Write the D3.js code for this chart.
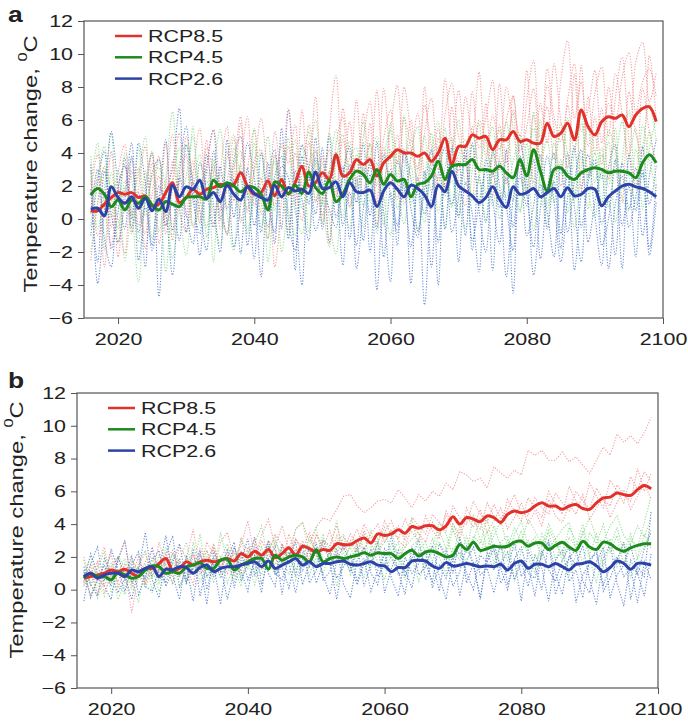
<!DOCTYPE html>
<html>
<head>
<meta charset="utf-8">
<script src="https://cdn.jsdelivr.net/npm/d3@7"></script>
<style>
  body { margin: 0; background: #fff; }
  svg { display: block; }
  text { font-family: "Liberation Sans", Arial, sans-serif; fill: #222; }
</style>
</head>
<body>
<div id="chart"></div>
<script>
// years 2016..2099, one value per year
const years = d3.range(2016, 2100);
const xTicks = [2020, 2040, 2060, 2080, 2100];
const yTicks = [-6, -4, -2, 0, 2, 4, 6, 8, 10, 12];
const scenarios = ["RCP8.5", "RCP4.5", "RCP2.6"];

// ---- panel a: ensemble means (thick lines)
const a85Mean = [0.5,0.5,0.9,1.3,1.6,1.5,1.6,1.3,1.4,0.8,
  0.9,1.6,2.2,1.0,1.3,1.8,1.5,1.8,1.9,2.1,
  2.0,2.1,2.8,2.0,1.5,1.6,2.3,1.4,2.4,1.5,
  2.2,3.2,2.0,2.2,2.8,2.4,3.9,2.6,2.8,3.6,
  3.3,3.6,2.6,3.4,3.8,4.2,4.0,4.0,3.8,4.0,
  3.5,4.0,4.9,3.3,4.4,4.4,5.1,4.9,5.0,4.2,
  4.8,4.8,5.3,4.7,4.8,4.6,4.6,5.8,5.0,5.2,
  5.8,4.8,6.6,5.6,5.1,5.9,6.2,6.1,6.3,5.6,
  6.3,6.7,6.8,5.9];
const a45Mean = [1.45,1.85,1.5,0.75,1.15,0.55,1.15,0.95,1.35,0.85,
  0.55,1.05,0.9,0.75,1.3,1.35,1.35,1.2,2.35,1.95,
  2.2,2.0,1.65,1.95,1.9,1.5,0.55,2.25,2.0,1.55,
  2.05,1.55,2.85,1.9,1.55,2.35,1.05,1.5,2.4,2.9,
  2.7,2.2,3.0,2.1,2.7,2.3,2.4,1.35,2.1,2.2,
  2.6,3.5,2.4,3.2,3.3,3.3,3.6,3.0,3.0,2.9,
  3.2,2.8,2.5,3.6,2.6,4.2,2.9,1.7,3.0,3.1,
  2.6,2.4,2.8,3.0,3.1,3.0,2.8,2.9,2.9,2.8,
  2.5,3.4,3.9,3.4];
const a26Mean = [0.6,0.65,0.2,1.95,1.3,0.95,1.35,0.65,1.25,0.5,
  1.2,0.45,2.05,1.35,1.95,1.8,2.35,1.25,1.6,1.05,
  2.05,1.5,1.15,1.95,1.55,1.3,1.15,2.05,1.35,1.9,
  1.7,1.8,1.55,2.85,1.85,1.9,2.25,1.35,2.2,1.65,
  1.6,1.75,0.75,1.7,2.2,1.8,1.35,2.05,1.85,1.45,
  0.75,2.05,1.65,2.9,2.0,1.7,1.4,1.0,1.3,1.95,
  1.2,0.7,1.95,1.5,1.6,1.85,1.35,1.6,1.85,1.35,
  1.9,1.4,1.5,1.85,1.8,0.8,1.35,1.7,2.0,2.1,
  1.95,1.85,1.65,1.35];

// ---- panel a: individual model runs (dotted lines)
const a85Runs = [
  [-2.5,1.0,3.2,-0.5,2.8,4.5,0.2,3.1,-1.8,1.5,
   3.8,-0.9,2.4,5.2,0.1,3.5,1.2,4.8,-0.3,2.9,
   5.6,1.1,3.4,6.2,0.8,2.5,-1.2,3.9,1.6,4.4,
   0.9,6.6,2.3,4.1,0.2,5.3,8.7,2.6,5.9,1.8,
   6.4,3.1,7.8,2.2,5.5,8.1,3.4,6.0,1.7,5.2,
   7.3,3.0,8.5,4.6,2.9,7.4,5.1,8.9,3.8,6.3,
   4.2,8.0,5.5,2.7,7.2,9.6,4.9,6.8,3.6,8.4,
   10.8,6.1,8.3,4.4,7.6,9.2,5.0,8.8,6.4,3.9,
   9.5,10.7,7.1,8.9],
  [2.9,-1.0,0.4,4.1,-2.3,1.8,3.6,-0.4,2.2,4.0,
   -1.5,1.9,5.1,0.6,-0.8,2.7,5.5,1.4,3.3,-0.6,
   2.1,4.9,-0.2,3.0,5.4,0.3,2.6,-2.9,1.2,6.7,
   2.4,-0.1,4.7,1.0,3.8,-1.5,4.5,6.2,0.7,3.6,
   1.5,5.8,-0.4,4.3,2.0,5.1,0.9,3.7,6.4,2.5,
   0.6,4.9,1.8,6.8,2.3,0.8,5.6,2.9,7.0,1.4,
   5.7,2.1,7.5,3.6,1.5,6.3,2.8,8.1,5.4,2.0,
   6.9,4.1,9.3,2.6,6.2,3.3,8.0,4.5,1.0,7.7,
   5.2,3.8,9.9,6.0],
  [0.3,2.5,-2.9,1.1,0.0,-2.1,2.9,0.8,-0.9,3.4,
   1.0,4.6,-1.3,2.2,3.9,-0.5,0.9,3.2,5.4,1.7,
   -1.0,2.8,6.2,1.5,3.6,4.2,0.7,5.3,2.1,-0.7,
   4.0,1.9,5.7,3.2,-0.2,2.9,1.4,4.8,3.0,7.2,
   2.8,4.5,1.0,7.9,3.6,1.2,6.1,4.3,2.4,8.0,
   3.2,5.5,2.0,4.1,7.8,3.5,1.3,6.0,4.7,2.6,
   8.2,3.4,6.6,5.0,9.0,2.2,7.0,4.6,9.4,5.9,
   3.1,8.8,1.8,7.4,4.0,6.7,2.4,7.3,9.8,4.8,
   2.0,7.9,5.3,3.4],
  [1.6,3.9,0.9,-1.6,2.0,3.3,-0.8,1.9,4.4,0.6,
   2.6,-0.4,3.5,1.2,5.0,2.4,-0.2,4.3,2.8,0.5,
   4.1,2.2,5.8,0.4,3.1,6.1,2.7,0.8,4.6,3.4,
   5.7,1.6,3.0,7.4,2.5,4.2,1.1,6.7,4.0,2.9,
   5.0,7.1,2.0,4.9,6.6,3.3,8.0,5.2,3.0,6.9,
   4.4,2.1,6.3,8.2,5.0,3.7,7.7,4.3,6.1,8.4,
   3.0,6.0,7.4,4.1,5.6,7.9,3.5,9.1,6.2,4.7,
   7.2,9.4,5.3,6.6,9.0,4.6,7.0,5.9,8.6,10.1,
   6.5,8.3,9.1,7.4]
];
const a45Runs = [
  [3.8,-0.6,1.9,5.2,-1.5,2.3,0.4,-3.8,1.6,4.1,
   -0.8,2.5,6.5,0.9,-2.2,1.7,3.9,-1.1,2.8,5.4,
   0.3,-1.9,3.3,1.2,4.6,-0.5,2.0,3.5,-2.0,1.4,
   4.8,0.6,2.9,6.0,1.3,-1.7,3.6,5.1,0.8,2.2,
   5.9,1.0,3.4,-0.4,4.2,2.6,6.3,0.9,3.1,5.0,
   1.6,4.4,-0.6,3.7,6.0,2.1,4.5,0.7,3.3,5.6,
   1.2,4.0,6.4,0.5,3.2,5.5,2.0,-0.3,4.6,2.7,
   6.1,1.5,3.8,0.6,5.2,2.4,4.7,-0.2,3.5,6.6,
   1.9,4.3,7.0,4.8],
  [-0.4,2.6,4.4,0.1,3.0,-2.5,0.8,2.7,5.0,-1.2,
   1.4,-3.2,2.0,4.3,1.1,5.6,-0.3,2.3,0.4,-1.6,
   3.7,5.1,0.2,-0.6,2.9,4.0,-2.6,1.8,4.4,0.5,
   -1.0,2.7,5.3,1.1,3.4,0.0,-2.1,2.6,4.7,1.9,
   -0.5,3.8,5.0,1.4,-1.0,4.1,1.6,3.2,-0.8,2.4,
   5.2,0.4,3.1,4.9,1.2,-0.6,3.0,5.8,1.5,4.0,
   0.0,2.6,1.1,5.1,3.8,-0.7,2.9,4.8,1.0,3.6,
   0.4,4.1,5.8,1.7,0.1,3.9,2.0,5.5,1.3,0.5,
   4.2,2.5,5.3,2.2],
  [2.1,4.6,-1.9,2.8,0.7,1.9,-0.9,4.3,0.2,2.5,
   3.1,0.1,-1.0,3.4,4.5,-0.4,1.8,3.0,-2.6,2.7,
   1.6,3.2,4.1,-0.9,1.3,2.2,5.0,0.5,2.6,-1.1,
   2.2,4.4,-0.8,3.5,0.9,5.2,2.3,0.1,3.7,4.3,
   0.8,2.1,-0.9,3.6,5.4,0.6,2.9,4.8,1.5,-0.2,
   3.4,2.4,5.5,0.7,3.9,4.8,1.1,2.5,5.1,0.8,
   3.7,5.9,2.3,0.4,4.6,1.9,6.0,0.9,3.0,5.2,
   2.8,-0.6,3.1,5.6,2.2,4.3,0.7,3.3,5.9,2.6,
   0.9,5.7,3.6,1.6],
  [-2.0,0.9,3.1,1.7,-0.6,4.0,2.4,-1.4,2.9,0.6,
   3.6,1.8,-2.4,0.9,2.6,5.0,1.3,-0.5,3.6,0.2,
   -0.8,4.3,2.5,0.6,5.5,1.0,-1.2,3.8,2.3,4.9,
   0.4,-0.9,3.1,4.2,-0.3,2.8,5.4,1.6,-0.6,3.9,
   2.9,4.6,0.3,1.8,5.8,2.2,-0.3,3.9,5.6,1.2,
   4.0,5.9,1.4,2.3,0.2,4.4,5.1,2.6,-0.1,3.8,
   5.4,1.3,3.5,4.9,1.7,6.5,3.1,0.7,2.4,5.8,
   3.9,1.1,6.7,2.5,4.0,0.9,5.4,4.1,1.8,3.6,
   5.5,0.6,4.2,6.2]
];
const a26Runs = [
  [3.3,-3.9,0.6,5.3,2.0,-0.6,3.8,-2.5,1.2,4.0,
   -4.7,1.5,3.1,6.7,-0.8,2.2,0.5,-1.9,4.1,1.0,
   -0.9,3.6,5.0,-1.6,1.7,-3.5,2.4,4.2,-0.6,6.6,
   1.3,-4.0,2.6,0.3,4.3,-1.4,2.0,-2.8,3.3,1.0,
   4.6,-2.0,2.8,0.4,-3.8,3.5,1.9,-1.7,2.5,-5.2,
   1.4,3.9,-0.6,4.4,-2.6,2.2,0.3,-3.2,3.7,1.1,
   -1.5,4.2,-4.5,2.6,0.8,3.6,-2.4,1.7,4.0,-0.9,
   2.9,-3.1,1.6,3.9,0.2,-2.8,3.1,4.5,-0.4,2.0,
   -2.3,4.4,0.9,3.2],
  [-1.0,2.2,4.1,-1.8,0.4,3.7,-0.5,1.6,-2.9,2.8,
   3.6,-0.4,1.0,-1.3,4.5,2.0,-2.2,3.0,5.4,-0.1,
   2.3,-1.7,0.9,4.6,2.5,-0.8,3.4,-1.5,5.5,0.0,
   -1.9,3.8,0.9,4.9,-0.6,2.8,4.0,-0.4,1.6,-1.6,
   3.1,0.2,4.7,-2.3,1.6,-0.4,4.2,0.6,-1.1,2.9,
   -2.9,2.7,4.3,-0.8,1.3,3.8,-1.9,2.6,-0.2,4.1,
   2.0,-3.5,1.2,3.3,-1.0,0.8,3.9,-0.6,2.3,-1.8,
   4.0,0.7,-2.6,2.5,3.6,-0.3,1.1,-2.2,3.4,0.6,
   3.1,-1.0,2.6,4.8],
  [1.8,-2.6,2.9,0.3,-1.4,1.2,4.6,-0.8,0.7,-1.9,
   1.1,4.8,-0.7,2.5,0.4,-1.5,3.4,1.7,-0.5,3.2,
   0.6,2.4,-2.1,3.1,-0.4,1.9,-0.5,2.6,3.8,-1.2,
   2.9,1.2,-1.3,3.7,2.2,0.6,-0.5,3.2,-1.2,2.5,
   -1.3,2.7,-0.6,3.9,1.4,-0.8,2.4,-3.9,1.9,0.3,
   3.1,-1.4,2.0,0.9,3.5,-1.0,4.6,0.5,-2.0,2.8,
   0.7,2.5,-0.5,3.8,1.5,-1.7,2.1,0.4,-2.3,3.3,
   -0.8,2.3,4.2,-1.4,1.0,2.8,-3.0,0.9,2.6,-0.5,
   1.4,3.0,-1.8,2.1],
  [0.4,3.0,-1.2,-2.9,1.9,3.2,0.0,4.6,2.2,-1.6,
   2.0,0.4,-3.4,2.7,5.6,1.2,-0.9,3.9,0.9,-2.0,
   4.8,0.1,2.9,1.5,-2.4,4.0,1.0,-0.8,3.2,2.5,
   -3.1,4.5,3.0,-0.7,1.2,5.0,0.1,2.6,4.4,-3.0,
   0.6,3.4,-4.3,1.5,3.0,-1.6,4.1,2.4,-0.7,1.8,
   4.2,-4.0,2.4,3.5,0.1,4.3,-1.3,0.9,3.0,-3.1,
   3.5,0.8,-1.9,4.6,2.3,-3.4,0.6,3.8,1.1,-2.6,
   1.3,4.4,-0.5,2.2,3.4,-1.6,0.0,3.6,-3.0,3.9,
   0.5,2.8,-2.2,1.0]
];

// ---- panel b: ensemble means (thick lines)
const b85Mean = [0.7,0.8,0.9,1.0,1.2,1.1,1.25,1.0,0.8,1.3,
  1.3,1.6,1.9,1.2,1.3,1.7,1.5,1.7,1.8,1.7,
  1.8,1.9,1.75,2.2,2.0,2.35,2.1,2.45,1.95,2.2,
  2.55,2.1,2.65,2.5,2.3,2.45,2.4,2.8,2.75,2.75,
  3.0,3.15,2.85,3.4,3.3,3.4,3.65,3.45,3.85,3.75,
  3.9,3.9,3.65,3.9,4.45,4.0,4.4,4.3,4.15,4.5,
  4.4,4.1,4.6,4.8,4.7,4.8,5.1,5.3,5.1,5.1,
  4.9,5.1,5.2,4.95,4.9,5.3,5.6,5.65,5.9,5.8,
  5.75,6.1,6.35,6.15];
const b45Mean = [0.7,1.0,0.8,0.8,0.6,1.05,0.9,0.7,0.8,1.2,
  1.45,1.4,1.0,1.1,1.0,1.4,1.5,1.65,1.3,1.3,
  1.8,1.85,1.2,1.5,1.7,1.9,1.9,1.25,2.1,1.8,
  2.0,2.1,2.0,1.7,2.45,1.7,1.9,2.0,1.9,2.0,
  2.1,2.25,2.1,2.25,2.2,2.2,1.9,2.2,2.4,2.05,
  2.3,2.35,2.2,2.0,2.1,2.75,2.45,2.9,2.4,2.5,
  2.65,2.6,2.65,2.9,2.95,2.65,2.85,2.85,2.45,2.7,
  2.9,2.6,2.4,2.95,2.6,2.45,2.9,2.8,2.5,2.35,
  2.55,2.7,2.8,2.8];
const b26Mean = [0.8,1.0,0.7,0.9,1.0,1.0,0.8,1.2,1.1,1.3,
  1.4,0.8,1.25,1.2,1.4,1.35,1.0,1.35,1.5,1.1,
  1.3,1.4,1.4,1.5,1.6,1.7,1.4,1.75,1.3,1.5,
  1.7,1.9,1.5,1.7,1.4,1.6,1.6,1.7,1.75,1.55,
  1.5,1.6,1.7,1.5,1.45,1.1,1.35,1.35,1.75,1.8,
  1.75,1.45,1.3,1.65,1.45,1.5,1.6,1.5,1.4,1.45,
  1.4,1.55,1.2,1.6,1.75,1.3,1.55,1.55,1.4,1.6,
  1.4,1.2,1.55,1.6,1.7,1.45,1.1,1.35,1.75,1.6,
  1.25,1.6,1.6,1.5];

// ---- panel b: individual model runs (dotted lines)
const b85Runs = [
  [2.0,0.3,1.5,2.6,0.5,1.8,3.0,0.2,1.4,2.3,
   0.8,2.9,1.5,0.4,2.7,1.9,3.7,1.2,2.4,1.0,
   2.9,3.5,1.8,2.7,4.2,2.0,3.3,4.3,2.6,3.9,
   2.4,3.7,4.1,2.9,3.8,4.4,4.2,4.9,5.7,5.8,
   5.1,4.7,5.0,5.4,5.5,5.3,6.1,5.6,5.0,5.8,
   5.4,6.0,5.7,6.5,6.1,7.2,7.0,6.6,6.8,6.2,
   7.5,7.1,6.8,7.3,7.0,8.5,8.2,8.5,7.9,7.9,
   8.4,7.8,8.1,7.6,7.1,7.9,8.7,8.2,9.5,9.0,
   9.4,8.9,9.6,10.5],
  [0.4,1.6,-0.3,1.1,2.2,0.1,1.2,-1.4,0.9,1.7,
   2.4,0.6,1.0,2.2,0.9,1.4,0.3,2.5,1.6,2.8,
   1.3,2.0,0.9,3.2,1.5,2.6,1.2,3.0,2.4,1.6,
   3.4,2.2,3.0,1.7,3.3,2.6,3.6,2.1,3.2,2.8,
   3.7,2.4,3.4,4.0,2.9,3.6,3.1,4.3,3.5,3.0,
   4.5,3.6,3.1,4.8,4.0,3.4,5.0,4.2,3.7,5.3,
   4.5,3.9,5.5,4.8,4.2,5.6,5.0,4.4,6.0,5.2,
   4.6,6.3,5.4,4.9,6.5,5.7,5.0,6.7,6.0,5.3,
   6.9,6.1,7.2,6.6],
  [1.1,-0.4,0.7,0.2,1.4,2.0,0.5,1.9,1.0,0.3,
   1.6,1.1,2.3,1.0,1.7,0.6,2.0,1.3,2.9,2.1,
   1.7,1.0,2.5,1.9,2.2,3.1,1.8,2.4,3.4,2.7,
   1.9,3.1,2.5,3.5,2.2,3.0,2.7,3.9,2.5,3.4,
   2.7,4.0,3.2,2.8,4.2,3.3,3.9,3.0,4.4,3.9,
   3.4,4.6,4.1,3.6,5.1,4.4,4.0,5.4,4.6,4.1,
   5.2,4.3,4.9,5.8,4.7,4.5,5.6,5.0,4.6,5.9,
   5.3,4.8,6.0,5.4,4.9,6.2,5.5,5.1,6.4,5.8,
   5.4,7.4,6.0,7.1],
  [0.2,1.0,1.7,-0.2,0.9,0.5,1.6,0.8,2.0,0.4,
   1.5,0.9,1.8,2.4,0.8,1.3,2.2,0.9,1.6,2.6,
   1.2,2.3,1.6,1.0,2.6,1.8,3.0,2.2,1.5,2.8,
   2.0,3.1,2.3,1.9,3.4,2.6,1.9,3.3,2.4,3.0,
   2.3,3.6,2.8,2.1,3.5,4.2,3.0,2.6,3.9,3.4,
   2.9,4.1,3.3,4.6,3.6,3.1,4.5,3.8,4.9,3.5,
   4.2,5.0,3.7,4.4,5.3,4.0,4.8,3.9,5.5,4.5,
   4.1,5.2,4.6,5.8,4.3,5.0,5.6,4.4,5.3,6.1,
   4.9,5.7,6.5,5.5]
];
const b45Runs = [
  [1.8,0.2,1.3,2.3,-0.2,1.0,1.9,0.6,-0.8,1.5,
   0.7,2.1,1.4,0.3,1.8,2.9,0.9,1.6,2.4,1.1,
   3.5,1.6,0.5,2.2,1.3,2.8,3.9,1.7,0.9,2.6,
   1.9,3.7,4.1,2.2,1.5,3.1,2.5,4.2,1.6,2.8,
   2.1,3.5,1.2,2.9,3.8,2.0,1.3,3.3,4.3,2.4,
   2.9,1.7,3.6,2.5,4.0,3.1,2.2,4.6,3.0,2.5,
   3.9,2.6,1.8,3.4,4.2,2.7,3.2,1.9,3.7,2.9,
   2.1,3.8,3.0,1.6,3.5,2.8,4.0,2.3,3.3,1.5,
   3.1,2.6,4.1,5.7],
  [0.3,1.2,-0.5,0.8,1.6,0.4,-0.3,1.4,0.9,0.1,
   1.3,-0.1,0.8,1.9,0.2,1.0,1.7,0.5,1.2,2.7,
   0.9,1.4,2.3,0.7,1.8,0.3,2.0,2.9,1.1,1.7,
   2.7,0.6,1.9,3.2,2.1,1.0,2.4,0.2,1.9,2.6,
   1.5,0.8,2.6,1.7,0.6,2.3,2.9,1.2,2.0,0.5,
   1.9,3.1,2.0,1.0,2.5,1.8,3.3,1.4,2.2,3.6,
   1.6,2.9,3.3,0.5,2.4,3.0,1.4,2.6,3.5,1.8,
   3.0,0.9,2.2,3.6,1.9,0.4,2.5,3.1,1.4,2.9,
   0.7,2.0,3.4,2.5],
  [1.0,2.0,0.6,-0.4,1.1,2.1,1.3,0.0,1.6,2.4,
   -0.2,1.2,2.6,1.5,0.8,2.0,1.2,3.4,0.7,1.8,
   2.1,0.4,1.6,3.0,2.4,1.1,2.6,1.2,3.0,2.0,
   0.9,2.4,1.4,2.6,3.8,1.7,2.0,2.9,3.4,1.3,
   3.0,2.2,3.6,2.3,2.9,3.7,1.8,2.6,3.1,3.5,
   2.2,2.6,4.1,3.4,2.0,3.9,2.7,3.0,4.4,2.3,
   3.3,4.2,2.6,3.8,2.9,4.3,3.6,2.7,4.0,3.1,
   3.7,4.1,2.5,3.4,4.4,3.1,2.9,3.9,4.5,3.3,
   2.8,3.9,3.2,4.4],
  [0.9,-0.3,0.5,1.8,1.1,-0.6,0.4,1.7,1.2,0.6,
   2.0,0.4,1.5,2.2,1.6,0.5,2.9,1.1,2.0,0.4,
   1.9,2.8,1.3,0.2,2.4,1.6,0.9,2.3,3.2,1.5,
   2.6,1.2,2.2,0.9,2.0,3.4,1.5,2.7,2.3,0.9,
   2.5,1.7,2.0,3.1,1.3,2.8,2.1,0.6,2.7,3.0,
   1.4,2.4,2.9,2.1,3.7,2.5,1.6,3.3,2.8,4.4,
   2.3,1.6,3.0,2.4,3.6,2.0,1.0,3.4,2.5,3.1,
   1.7,3.2,2.6,4.0,2.1,3.4,1.4,2.7,3.8,2.2,
   3.4,1.9,2.6,3.7]
];
const b26Runs = [
  [-0.7,1.6,2.6,0.2,-0.6,1.8,3.0,0.4,1.2,3.5,
   0.6,-0.5,2.1,3.3,0.1,1.4,-0.7,2.2,0.8,1.5,
   -0.9,2.0,2.9,0.5,1.6,3.2,0.3,1.9,2.6,-0.3,
   2.3,0.9,2.8,0.4,1.2,3.0,1.7,-0.6,2.0,1.1,
   2.7,0.2,1.6,2.9,-0.2,1.3,2.4,0.8,1.9,3.1,
   0.6,1.7,-0.1,2.5,1.0,3.2,0.4,1.6,-0.6,2.3,
   1.2,2.8,0.3,1.8,-0.7,2.4,1.4,0.0,2.9,1.0,
   -0.3,2.1,1.5,2.7,0.6,-0.9,1.9,2.8,0.4,-1.0,
   1.8,0.9,2.5,3.5],
  [1.4,0.3,-0.4,1.9,1.0,-0.2,0.7,2.1,-0.3,0.9,
   1.8,2.4,0.2,1.1,1.9,0.3,2.5,-0.4,1.6,0.8,
   1.5,-0.6,1.2,2.3,0.6,1.7,-0.2,2.7,0.9,1.4,
   0.1,1.9,1.1,2.6,0.4,1.6,2.3,0.7,1.4,2.1,
   0.5,1.9,-0.1,1.2,2.2,0.7,-0.4,2.0,1.0,1.6,
   2.4,0.1,1.5,0.7,2.1,-0.4,1.8,2.6,0.9,1.3,
   -0.2,1.6,2.3,0.6,1.7,0.2,2.1,1.3,-0.7,1.8,
   2.4,0.5,1.2,-0.5,1.9,2.2,0.3,1.4,2.0,0.8,
   1.3,-0.8,1.7,0.6],
  [0.5,2.2,1.0,0.6,2.5,1.2,-0.1,1.5,2.3,0.2,
   -0.1,1.3,3.3,0.9,-0.6,2.1,1.0,1.6,-0.9,2.4,
   1.1,2.5,0.1,1.8,3.1,0.8,2.2,1.0,0.2,2.8,
   1.6,-0.2,1.9,1.4,2.9,0.6,1.1,2.5,0.3,-0.5,
   1.8,2.6,1.0,0.3,2.5,1.9,1.1,-0.3,2.6,0.9,
   1.4,2.7,0.8,-0.6,1.9,2.3,1.0,0.0,2.1,1.7,
   2.5,0.4,1.3,2.9,0.8,1.5,-0.4,2.4,1.2,0.5,
   1.8,2.6,-0.8,0.9,1.6,2.5,-0.1,0.7,1.8,2.9,
   -0.6,1.4,0.8,4.8],
  [1.2,-0.5,0.6,1.5,0.2,2.0,0.9,-0.6,1.3,0.7,
   2.6,1.0,0.4,1.7,2.8,0.5,1.3,2.4,0.0,1.9,
   0.7,1.5,2.6,1.1,-0.1,2.1,1.6,3.0,1.0,0.6,
   2.0,2.9,0.3,1.6,2.3,0.9,-0.3,1.8,2.7,1.4,
   0.3,1.6,2.4,0.8,1.5,3.3,0.9,1.2,0.1,2.3,
   1.6,0.5,2.8,1.9,0.2,1.1,2.7,1.5,-0.5,1.9,
   2.8,1.3,0.0,1.9,2.6,1.0,0.7,2.2,3.0,-0.3,
   1.1,1.9,2.5,0.5,-0.2,1.7,2.6,-0.5,0.9,1.5,
   2.7,1.0,-0.4,2.2]
];

const thickColor = {"RCP8.5": "#e2302a", "RCP4.5": "#1c8a1c", "RCP2.6": "#2d42a6"};
const dotColor = {"RCP8.5": "#f48c8c", "RCP4.5": "#86d886", "RCP2.6": "#5079cc"};

const svg = d3.select("#chart").append("svg")
    .attr("width", 688)
    .attr("height", 724);

// the original font is wider than Arial, so stretch text horizontally
const SX = 1.3;

function drawPanel(p) {
    const x = d3.scaleLinear().domain([2015, 2100]).range([p.left, p.right]);
    const y = d3.scaleLinear().domain([-6, 12]).range([p.bottom, p.top]);

    const g = svg.append("g");

    // dotted model runs, interleaved by scenario
    const dotted = p.runLinear ? d3.curveLinear : d3.curveCatmullRom.alpha(0.5);
    const runLine = d3.line()
        .x((d, i) => x(years[i]))
        .y(d => y(d))
        .curve(dotted);
    const nRuns = p.runs[0].length;
    for (let k = 0; k < nRuns; k++) {
        scenarios.forEach((s, j) => {
            g.append("path")
                .datum(p.runs[j][k])
                .attr("fill", "none")
                .attr("stroke", dotColor[s])
                .attr("stroke-opacity", 0.85)
                .attr("stroke-width", 1.1)
                .attr("stroke-dasharray", "1.2,1.6")
                .attr("d", runLine);
        });
    }

    // thick ensemble means
    const meanLine = d3.line()
        .x((d, i) => x(years[i]))
        .y(d => y(d))
        .curve(d3.curveCatmullRom.alpha(0.5));
    scenarios.forEach((s, j) => {
        g.append("path")
            .datum(p.means[j])
            .attr("fill", "none")
            .attr("stroke", thickColor[s])
            .attr("stroke-width", 3)
            .attr("stroke-linejoin", "round")
            .attr("d", meanLine);
    });

    // frame
    g.append("rect")
        .attr("x", p.left).attr("y", p.top)
        .attr("width", p.right - p.left)
        .attr("height", p.bottom - p.top)
        .attr("fill", "none")
        .attr("stroke", "#555")
        .attr("stroke-width", 1.2);

    // axes
    const ya = g.append("g")
        .attr("transform", `translate(${p.left},0)`)
        .call(d3.axisLeft(y).tickValues(yTicks).tickSize(6).tickPadding(5));
    ya.select(".domain").remove();
    ya.selectAll("line").attr("stroke", "#555");
    ya.selectAll("text")
        .attr("x", 0)
        .attr("font-size", 16.5)
        .attr("fill", "#222")
        .attr("font-family", "Liberation Sans, Arial, sans-serif")
        .attr("transform", `translate(-11,0) scale(${SX},1)`);

    const xa = g.append("g")
        .attr("transform", `translate(0,${p.bottom})`)
        .call(d3.axisBottom(x).tickValues(xTicks).tickFormat(d3.format("d")).tickSize(6).tickPadding(9));
    xa.select(".domain").remove();
    xa.selectAll("line").attr("stroke", "#555");
    xa.selectAll("text")
        .attr("font-size", 16.5)
        .attr("fill", "#222")
        .attr("font-family", "Liberation Sans, Arial, sans-serif")
        .attr("transform", `scale(${SX},1)`);

    // y title
    const t = g.append("text")
        .attr("transform", `translate(${p.titleX},${p.titleY}) rotate(-90) scale(1.25,1)`)
        .attr("text-anchor", "middle")
        .attr("font-size", 19);
    t.append("tspan").text("Temperature change, ");
    t.append("tspan").attr("font-size", 13).attr("dy", "-0.75em").text("0");
    t.append("tspan").attr("dy", "0.5em").text("C");

    // panel letter
    g.append("text")
        .attr("transform", `translate(8,${p.letterY}) scale(1.2,1)`)
        .attr("font-size", 22)
        .attr("font-weight", "bold")
        .text(p.letter);

    // legend
    const lg = g.append("g")
        .attr("transform", `translate(${p.left + 31},${p.top + 15})`);
    scenarios.forEach((s, j) => {
        lg.append("line")
            .attr("x1", 0).attr("x2", 27)
            .attr("y1", j * 21.3).attr("y2", j * 21.3)
            .attr("stroke", thickColor[s])
            .attr("stroke-width", 2.5);
        lg.append("text")
            .attr("transform", `translate(33,${j * 21.3 + 6}) scale(${SX},1)`)
            .attr("font-size", 16.5)
            .text(s);
    });
}

drawPanel({
    letter: "a", letterY: 21.5,
    left: 84, right: 663, top: 21, bottom: 318,
    titleX: 37, titleY: 164,
    means: [a85Mean, a45Mean, a26Mean],
    runs: [a85Runs, a45Runs, a26Runs],
    runLinear: false
});

drawPanel({
    letter: "b", letterY: 388,
    left: 77, right: 658, top: 393, bottom: 688,
    titleX: 23, titleY: 530,
    means: [b85Mean, b45Mean, b26Mean],
    runs: [b85Runs, b45Runs, b26Runs],
    runLinear: true
});
</script>
</body>
</html>
